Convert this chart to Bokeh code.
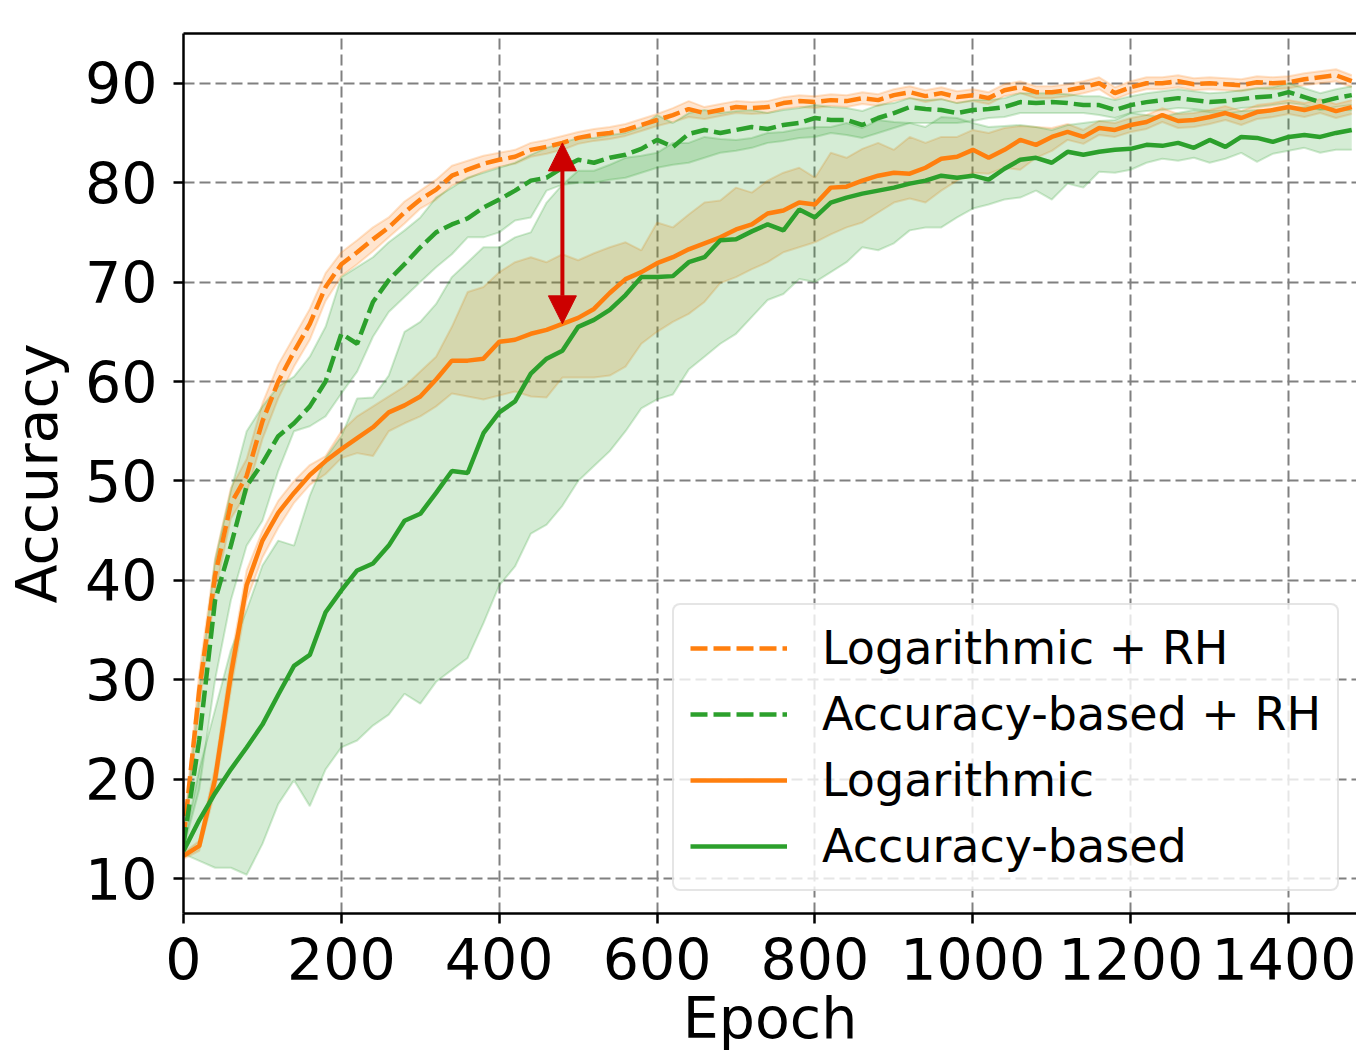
from bokeh.plotting import figure
from bokeh.models import (Range1d, FixedTicker, LinearAxis, Legend, LegendItem,
                          Arrow, NormalHead)
from bokeh.embed import file_html
from bokeh.resources import INLINE

# ---------------- data ----------------
epochs = [0, 20, 40, 60, 80, 100, 120, 140, 160, 180,
          200, 220, 240, 260, 280, 300, 320, 340, 360, 380,
          400, 420, 440, 460, 480, 500, 520, 540, 560, 580,
          600, 620, 640, 660, 680, 700, 720, 740, 760, 780,
          800, 820, 840, 860, 880, 900, 920, 940, 960, 980,
          1000, 1020, 1040, 1060, 1080, 1100, 1120, 1140, 1160, 1180,
          1200, 1220, 1240, 1260, 1280, 1300, 1320, 1340, 1360, 1380,
          1400, 1420, 1440, 1460, 1480]

# Logarithmic + RH (mean, lower, upper)
lrh = [14.0, 29.0, 40.5, 47.7, 50.5, 56.0, 60.0, 63.0, 65.8, 69.5,
       71.8, 73.0, 74.3, 75.5, 77.0, 78.3, 79.3, 80.7, 81.3, 81.9,
       82.3, 82.6, 83.3, 83.6, 84.0, 84.5, 84.8, 85.0, 85.3, 85.8,
       86.3, 86.8, 87.4, 87.0, 87.3, 87.6, 87.5, 87.6, 88.0, 88.2,
       88.1, 88.3, 88.2, 88.5, 88.3, 88.8, 89.1, 88.7, 89.0, 88.6,
       88.8, 88.5, 89.3, 89.6, 89.1, 89.1, 89.3, 89.6, 90.0, 89.0,
       89.6, 90.0, 90.0, 90.2, 89.9, 90.0, 89.9, 89.8, 90.1, 90.0,
       90.1, 90.4, 90.6, 90.8, 90.2]
lrh_lo = [13.0, 27.3, 38.8, 46.2, 48.8, 54.2, 58.3, 61.5, 64.2, 68.1,
          70.6, 71.8, 73.1, 74.5, 75.9, 77.4, 78.3, 79.7, 80.4, 81.1,
          81.6, 81.9, 82.6, 82.9, 83.3, 83.9, 84.2, 84.4, 84.7, 85.2,
          85.7, 86.1, 86.6, 86.4, 86.7, 87.0, 86.9, 87.0, 87.4, 87.6,
          87.5, 87.7, 87.6, 87.9, 87.7, 88.2, 88.5, 88.1, 88.4, 88.0,
          88.2, 87.9, 88.7, 89.0, 88.5, 88.5, 88.7, 89.0, 89.4, 88.4,
          89.0, 89.4, 89.4, 89.6, 89.3, 89.4, 89.3, 89.2, 89.5, 89.4,
          89.5, 89.8, 90.0, 90.2, 89.6]
lrh_hi = [14.5, 30.7, 42.2, 49.3, 52.2, 57.8, 61.7, 64.5, 67.3, 70.9,
          73.0, 74.2, 75.5, 76.5, 78.1, 79.2, 80.3, 81.7, 82.2, 82.7,
          83.0, 83.3, 84.0, 84.3, 84.7, 85.1, 85.4, 85.6, 85.9, 86.4,
          86.9, 87.5, 88.2, 87.6, 87.9, 88.2, 88.1, 88.2, 88.6, 88.8,
          88.7, 88.9, 88.8, 89.1, 88.9, 89.4, 89.7, 89.3, 89.6, 89.2,
          89.4, 89.1, 89.9, 90.2, 89.7, 89.7, 89.9, 90.2, 90.6, 89.6,
          90.2, 90.6, 90.6, 90.8, 90.5, 90.6, 90.5, 90.4, 90.7, 90.6,
          90.7, 91.0, 91.2, 91.4, 90.8]

# Accuracy-based + RH
arh = [13.5, 24.0, 38.0, 43.5, 49.5, 51.8, 54.5, 55.8, 57.5, 60.0,
       64.8, 63.8, 68.0, 70.2, 71.8, 73.5, 75.0, 75.8, 76.4, 77.5,
       78.3, 79.2, 80.2, 80.5, 81.5, 82.3, 82.0, 82.5, 82.8, 83.4,
       84.3, 83.6, 84.9, 85.3, 85.0, 85.3, 85.6, 85.4, 85.8, 86.0,
       86.5, 86.3, 86.3, 85.8, 86.5, 87.0, 87.6, 87.4, 87.3, 87.0,
       87.3, 87.4, 87.6, 88.1, 88.0, 88.1, 88.0, 87.8, 87.8, 87.3,
       87.8, 88.1, 88.3, 88.5, 88.3, 88.1, 88.2, 88.4, 88.6, 88.7,
       89.1, 88.6, 88.1, 88.5, 88.8]
arh_lo = [13.0, 19.0, 30.0, 38.0, 43.5, 46.0, 51.0, 55.0, 55.5, 56.5,
          58.8, 61.0, 64.5, 67.0, 68.5, 70.0, 71.5, 72.8, 74.5, 74.5,
          75.0, 76.2, 76.5, 79.2, 79.8, 80.0, 80.0, 80.3, 80.5, 81.0,
          81.5, 81.8, 82.0, 82.5, 83.0, 83.2, 83.5, 84.0, 84.2, 84.5,
          84.6, 85.0, 84.8, 84.5, 85.0, 85.5, 86.0, 86.0, 86.0, 86.0,
          86.2, 86.5, 86.6, 87.0, 87.0, 87.0, 87.0, 87.0, 86.8, 86.5,
          87.0, 87.2, 87.3, 87.5, 87.4, 87.2, 87.2, 87.5, 87.6, 87.8,
          88.0, 87.8, 87.3, 87.6, 87.8]
arh_hi = [14.0, 29.0, 42.0, 49.0, 55.0, 57.5, 59.5, 60.5, 62.5, 65.5,
          70.5, 71.5, 72.5, 74.0, 75.2, 76.5, 78.5, 79.5, 80.5, 81.0,
          81.5, 82.0, 82.8, 83.5, 84.0, 84.5, 84.5, 84.8, 85.0, 85.6,
          86.8, 86.0, 87.0, 87.3, 87.0, 87.2, 87.3, 87.0, 87.3, 87.5,
          87.8, 87.6, 87.5, 87.2, 87.8, 88.0, 88.5, 88.3, 88.4, 88.0,
          88.3, 88.3, 88.5, 89.0, 89.0, 89.0, 88.9, 88.7, 88.7, 88.3,
          88.7, 89.0, 89.2, 89.4, 89.2, 89.0, 89.1, 89.3, 89.5, 89.6,
          90.0, 89.5, 89.0, 89.4, 89.7]

# Logarithmic
lg = [12.3, 13.3, 20.0, 30.5, 39.5, 44.0, 46.8, 48.8, 50.6, 52.0,
      53.2, 54.3, 55.4, 56.9, 57.6, 58.5, 60.2, 62.1, 62.1, 62.3,
      64.0, 64.2, 64.8, 65.2, 65.8, 66.4, 67.3, 68.9, 70.3, 71.0,
      71.9, 72.5, 73.3, 73.9, 74.5, 75.3, 75.8, 76.9, 77.2, 78.0,
      77.8, 79.5, 79.6, 80.2, 80.7, 81.0, 80.9, 81.5, 82.4, 82.6,
      83.3, 82.5, 83.3, 84.3, 83.8, 84.6, 85.1, 84.6, 85.5, 85.3,
      85.8, 86.1, 86.8, 86.2, 86.3, 86.6, 87.0, 86.5, 87.1, 87.3,
      87.6, 87.3, 87.7, 87.2, 87.6]
lg_lo = [12.0, 12.8, 18.8, 29.0, 38.0, 42.3, 45.3, 47.8, 49.6, 50.7,
         52.3, 52.8, 52.5, 55.0, 55.8, 56.5, 57.5, 58.8, 58.5, 58.2,
         58.6, 59.0, 58.5, 58.4, 60.4, 60.4, 60.4, 60.6, 61.5, 63.8,
         65.0, 66.0, 66.8, 68.0, 69.9, 70.5, 71.3, 72.0, 73.0, 73.5,
         74.0, 74.8, 75.5, 76.0, 77.0, 78.0, 78.4, 78.0, 79.2, 80.2,
         81.0, 80.9, 81.5, 81.3, 82.5, 83.2, 84.3, 83.9, 84.8, 84.6,
         85.1, 85.4, 86.1, 85.5, 85.6, 85.9, 86.3, 85.8, 86.4, 86.6,
         86.9, 86.6, 87.0, 86.5, 86.9]
lg_hi = [12.6, 13.8, 21.2, 32.0, 41.0, 45.0, 48.0, 50.0, 51.6, 52.5,
         55.0, 56.5, 57.5, 58.5, 59.5, 61.0, 62.5, 65.5, 69.0, 69.5,
         71.0, 72.0, 72.5, 72.0, 72.8, 72.2, 72.9, 73.5, 74.0, 73.2,
         76.0, 75.5, 76.8, 78.0, 78.2, 79.5, 79.0, 80.2, 81.0, 81.5,
         80.5, 83.0, 82.5, 83.4, 84.0, 83.3, 84.6, 84.0, 84.6, 84.6,
         85.3, 85.0, 85.5, 85.7, 85.6, 85.5, 85.9, 85.3, 86.2, 86.0,
         86.5, 86.8, 87.5, 86.9, 87.0, 87.3, 87.7, 87.2, 87.8, 88.0,
         88.3, 88.0, 88.4, 87.9, 88.3]

# Accuracy-based
ac = [12.8, 15.9, 18.6, 21.0, 23.2, 25.5, 28.5, 31.4, 32.5, 36.8,
      39.0, 41.0, 41.7, 43.5, 46.0, 46.7, 48.8, 51.0, 50.8, 54.8,
      56.9, 58.0, 60.8, 62.3, 63.1, 65.5, 66.2, 67.2, 68.7, 70.5,
      70.5, 70.6, 72.0, 72.5, 74.2, 74.3, 75.1, 75.8, 75.2, 77.3,
      76.5, 78.0, 78.5, 78.9, 79.2, 79.5, 79.9, 80.2, 80.7, 80.5,
      80.7, 80.3, 81.4, 82.3, 82.5, 82.0, 83.1, 82.8, 83.1, 83.3,
      83.4, 83.8, 83.7, 84.0, 83.5, 84.3, 83.6, 84.6, 84.5, 84.1,
      84.6, 84.8, 84.6, 85.0, 85.3]
ac_lo = [12.5, 11.8, 11.1, 11.1, 10.4, 13.5, 17.5, 19.9, 17.3, 21.0,
         23.2, 23.9, 25.4, 26.5, 28.6, 27.6, 29.8, 31.0, 32.2, 35.7,
         39.5, 41.4, 44.7, 45.6, 47.5, 50.0, 51.5, 53.0, 55.0, 57.3,
         58.2, 58.7, 61.2, 62.5, 63.8, 64.8, 66.5, 68.2, 68.8, 70.3,
         70.0, 71.0, 72.0, 73.5, 73.2, 73.9, 75.2, 75.5, 75.5, 76.5,
         77.4, 77.8, 78.3, 78.5, 79.2, 78.3, 79.9, 79.5, 81.1, 81.0,
         81.3, 82.0, 82.4, 82.2, 82.5, 82.0, 82.4, 83.0, 82.1, 82.9,
         83.2, 83.5, 83.0, 83.3, 83.3]
ac_hi = [13.2, 21.0, 27.0, 33.0, 37.0, 41.5, 44.0, 43.5, 48.5, 52.3,
         54.5, 58.3, 58.4, 60.6, 65.0, 66.0, 67.8, 70.5, 72.0, 73.5,
         73.5, 74.5, 75.0, 78.0, 79.8, 81.2, 81.2, 81.8, 82.5, 82.7,
         83.0, 84.0, 84.0, 84.6, 84.4, 84.3, 84.5, 85.0, 85.1, 85.4,
         85.6, 85.6, 86.0, 85.5, 86.3, 86.1, 86.0, 85.6, 86.6, 86.5,
         86.0, 85.6, 85.7, 85.8, 85.6, 85.3, 85.8, 86.0, 86.2, 86.3,
         87.0, 86.8, 86.6, 87.0, 87.3, 87.1, 87.0, 87.2, 87.3, 87.3,
         87.5, 87.6, 87.4, 87.3, 87.3]

labels = ["Logarithmic + RH", "Accuracy-based + RH", "Logarithmic", "Accuracy-based"]
x_ticks = [0, 200, 400, 600, 800, 1000, 1200, 1400]
y_ticks = [10, 20, 30, 40, 50, 60, 70, 80, 90]
x_title = "Epoch"
y_title = "Accuracy"
arrow_epoch = 480

# ---------------- style ----------------
FONT = "DejaVu Sans"
ORANGE = "#ff7f0e"
GREEN = "#2ca02c"
RED = "#cc0000"

p = figure(width=1356, height=1060, output_backend="svg", toolbar_location=None,
           x_range=Range1d(0, 1486), y_range=Range1d(6.5, 95.0),
           min_border_left=183, min_border_right=0, min_border_top=33,
           min_border_bottom=147)
p.outline_line_color = None
p.background_fill_color = "white"
p.border_fill_color = "white"

p.xaxis.ticker = FixedTicker(ticks=x_ticks)
p.yaxis.ticker = FixedTicker(ticks=y_ticks)
p.xgrid.ticker = FixedTicker(ticks=x_ticks)
p.ygrid.ticker = FixedTicker(ticks=y_ticks)
p.xaxis.axis_label = x_title
p.yaxis.axis_label = y_title

for ax in (p.xaxis[0], p.yaxis[0]):
    ax.axis_line_width = 2.5
    ax.axis_line_color = "black"
    ax.major_tick_line_width = 2.5
    ax.major_tick_line_color = "black"
    ax.major_tick_out = 10
    ax.major_tick_in = 0
    ax.minor_tick_line_color = None
    ax.major_label_text_font = FONT
    ax.major_label_text_font_size = "57px"
    ax.major_label_text_color = "black"
    ax.axis_label_text_font = FONT
    ax.axis_label_text_font_size = "57px"
    ax.axis_label_text_font_style = "normal"
    ax.axis_label_text_color = "black"

p.xaxis.major_label_standoff = 14
p.xaxis.axis_label_standoff = 2
p.xaxis.axis_label_text_line_height = 1.0
p.yaxis.major_label_standoff = 16
p.yaxis.axis_label_standoff = 12

top = LinearAxis(ticker=FixedTicker(ticks=[]), axis_line_width=2.5, axis_line_color="black",
                 major_tick_line_color=None, minor_tick_line_color=None,
                 major_label_text_font_size="0px", major_tick_out=0, major_tick_in=0)
p.add_layout(top, "above")

for g in (p.xgrid, p.ygrid):
    g.grid_line_color = "#808080"
    g.grid_line_width = 2
    g.grid_line_dash = "11 5"


def band(lo, hi, color):
    p.varea(x=epochs, y1=lo, y2=hi, fill_color=color, fill_alpha=0.2)
    p.line(epochs, lo, line_color=color, line_alpha=0.22, line_width=2)
    p.line(epochs, hi, line_color=color, line_alpha=0.22, line_width=2)


band(lrh_lo, lrh_hi, ORANGE)
band(arh_lo, arh_hi, GREEN)
band(lg_lo, lg_hi, ORANGE)
band(ac_lo, ac_hi, GREEN)

r1 = p.line(epochs, lrh, line_color=ORANGE, line_width=4.5, line_dash="17 6")
r2 = p.line(epochs, arh, line_color=GREEN, line_width=4.5, line_dash="17 6")
r3 = p.line(epochs, lg, line_color=ORANGE, line_width=4.5)
r4 = p.line(epochs, ac, line_color=GREEN, line_width=4.5)

i = epochs.index(arrow_epoch)
arrow = Arrow(start=NormalHead(size=28, fill_color=RED, line_color=RED),
              end=NormalHead(size=28, fill_color=RED, line_color=RED),
              x_start=arrow_epoch, y_start=lg[i], x_end=arrow_epoch, y_end=lrh[i],
              line_color=RED, line_width=4)
p.add_layout(arrow)

legend = Legend(items=[LegendItem(label=labels[0], renderers=[r1]),
                       LegendItem(label=labels[1], renderers=[r2]),
                       LegendItem(label=labels[2], renderers=[r3]),
                       LegendItem(label=labels[3], renderers=[r4])],
                location=(489, 22))
legend.label_text_font = FONT
legend.label_text_font_size = "46px"
legend.label_text_color = "black"
legend.glyph_width = 97
legend.glyph_height = 40
legend.label_height = 40
legend.label_standoff = 35
legend.spacing = 12
legend.padding = 16
legend.margin = 0
legend.background_fill_color = "white"
legend.background_fill_alpha = 0.8
legend.border_line_color = "#cccccc"
legend.border_line_width = 2
legend.border_radius = 8
p.add_layout(legend)

open("out.html", "w").write(file_html(p, INLINE))
